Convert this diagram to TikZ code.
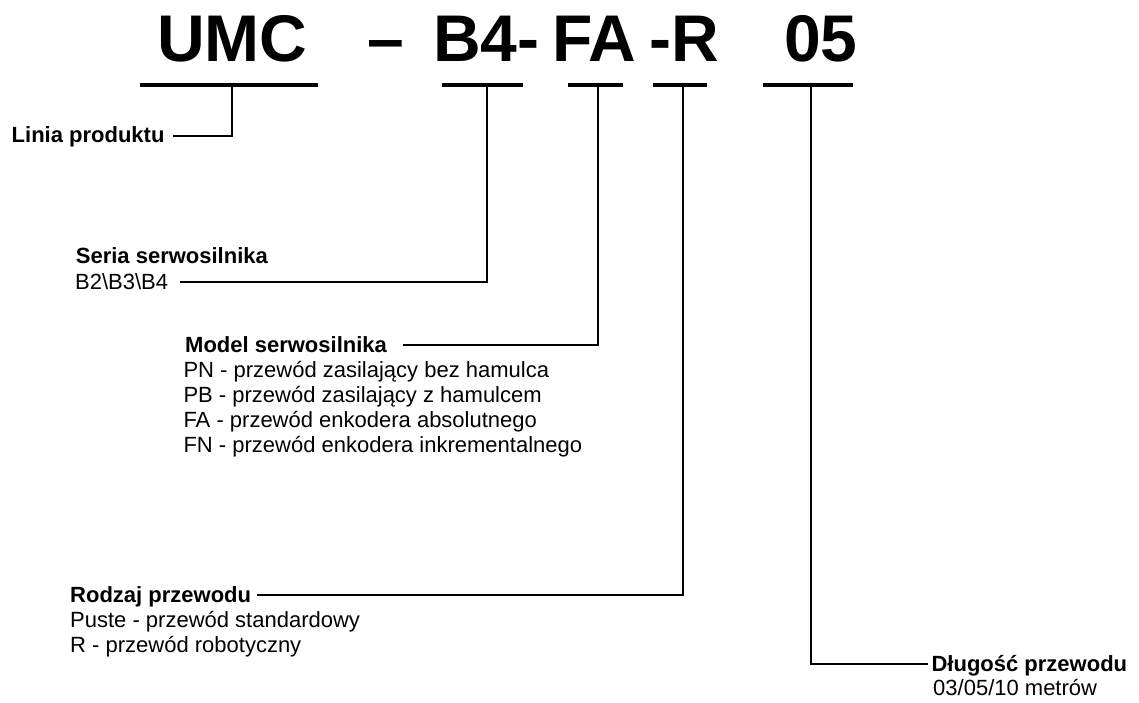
\documentclass[tikz,border=0pt]{standalone}
\usepackage{fontspec}
\setmainfont{Liberation Sans}

\tikzset{
  code/.style={font=\fontsize{66}{66}\selectfont\bfseries, inner sep=0pt, anchor=base west},
  title/.style={font=\fontsize{22}{25}\selectfont\bfseries, inner sep=0pt,
                text height=14pt, text depth=0pt, anchor=base west},
  body/.style={font=\fontsize{22}{25}\selectfont, inner sep=0pt,
               text height=14pt, text depth=0pt, anchor=base west},
  bar/.style={line width=3.5pt},
  conn/.style={line width=2.3pt},
}

\begin{document}
\begin{tikzpicture}[x=1pt, y=-1pt]

  \useasboundingbox (0,0) rectangle (1139,703);

  % Order code
  \node[code] (umc)  at (157,62) {UMC};
  \node[code] (dash) at (367,62) {–};
  \node[code] (ser)  at (433,62) {B4-};
  \node[code] (mod)  at (552,62) {FA};
  \node[code] (typ)  at (649,62) {-R};
  \node[code] (len)  at (784,62) {05};

  % Underlines with tick points
  \draw[bar] (140,85) -- (318,85);
  \draw[bar] (442,85) -- (523,85);
  \draw[bar] (568,85) -- (623,85);
  \draw[bar] (653,85) -- (707,85);
  \draw[bar] (763,85) -- (853,85);
  \coordinate (umc-t) at (232,85);
  \coordinate (ser-t) at (487,85);
  \coordinate (mod-t) at (598,85);
  \coordinate (typ-t) at (683,85);
  \coordinate (len-t) at (811,85);

  % Product line
  \node[title] (lin) at (11.5,143) {Linia produktu};

  % Motor series
  \node[title] (sert) at (75.7,263) {Seria serwosilnika};
  \node[body]  (serb) at (75,289) {B2\textbackslash B3\textbackslash B4};

  % Motor model
  \node[title] (modt) at (185,352) {Model serwosilnika};
  \node[body]  (mod1) at (183.3,377) {PN - przewód zasilający bez hamulca};
  \node[body]  (mod2) at (183.3,402) {PB - przewód zasilający z hamulcem};
  \node[body]  (mod3) at (183.3,427) {FA - przewód enkodera absolutnego};
  \node[body]  (mod4) at (183.3,452) {FN - przewód enkodera inkrementalnego};

  % Cable type
  \node[title] (typt) at (70,602) {Rodzaj przewodu};
  \node[body]  (typ1) at (70,627) {Puste - przewód standardowy};
  \node[body]  (typ2) at (70,652) {R - przewód robotyczny};

  % Cable length
  \node[title] (lent) at (931.4,671) {Długość przewodu};
  \node[body]  (lenb) at (933,695) {03/05/10 metrów};

  % Connectors
  \draw[conn] (umc-t) |- ([xshift=8.5pt]lin.east);
  \draw[conn] (ser-t) |- ([xshift=11.5pt]serb.east);
  \draw[conn] (mod-t) |- ([xshift=16pt]modt.east);
  \draw[conn] (typ-t) |- ([xshift=6pt]typt.east);
  \draw[conn] (len-t) |- ([xshift=-3.5pt]lent.west);

\end{tikzpicture}
\end{document}
